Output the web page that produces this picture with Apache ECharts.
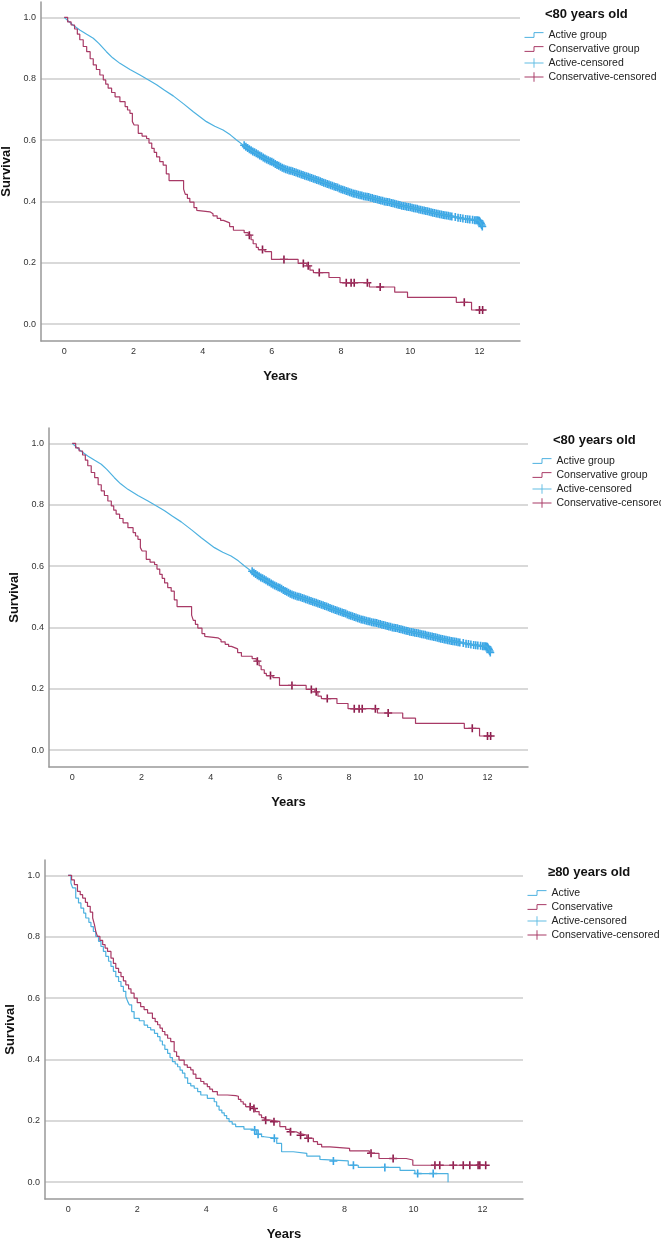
<!DOCTYPE html>
<html>
<head>
<meta charset="utf-8">
<script src="https://cdn.jsdelivr.net/npm/echarts@6/dist/echarts.min.js"></script>
<style>
  html, body { margin: 0; padding: 0; background: #fff; }
  #chart { width: 661px; height: 1239px; }
</style>
</head>
<body>
<div id="chart"></div>
<script>
// ticks
const yearTicks = [0, 2, 4, 6, 8, 10, 12]
const survivalTicks = [0, 0.2, 0.4, 0.6, 0.8, 1.0]

// <80 years old : [years, survival]
const activeYoung = [
  [0, 1], [0.25, 0.975], [0.45, 0.959], [0.65, 0.945], [0.84, 0.932], [1.0, 0.915],
  [1.22, 0.888], [1.4, 0.868], [1.61, 0.85], [1.9, 0.83], [2.19, 0.812], [2.45, 0.795],
  [2.67, 0.78], [2.9, 0.762], [3.15, 0.744], [3.45, 0.718], [3.73, 0.692], [4.11, 0.66],
  [4.35, 0.645], [4.59, 0.633], [4.8, 0.617], [4.98, 0.6], [5.17, 0.584], [5.4, 0.567],
  [5.56, 0.556], [5.8, 0.54], [6.04, 0.527], [6.23, 0.514], [6.43, 0.504], [6.7, 0.494],
  [6.91, 0.486], [7.15, 0.476], [7.39, 0.466], [7.63, 0.456], [7.87, 0.446], [8.1, 0.436],
  [8.35, 0.426], [8.6, 0.419], [8.84, 0.413], [9.08, 0.406], [9.32, 0.399], [9.56, 0.392],
  [9.8, 0.385], [10.04, 0.38], [10.28, 0.374], [10.52, 0.367], [10.76, 0.361], [11.0, 0.355],
  [11.25, 0.35], [11.5, 0.345], [11.73, 0.341], [11.97, 0.339], [12.03, 0.33], [12.08, 0.318]
]
const activeYoungCensored = [
  [5.2, 0.583], [5.25, 0.578], [5.3, 0.574], [5.35, 0.57], [5.4, 0.567], [5.45, 0.563],
  [5.5, 0.56], [5.55, 0.557], [5.6, 0.554], [5.65, 0.55], [5.7, 0.547], [5.75, 0.543],
  [5.8, 0.54], [5.85, 0.537], [5.9, 0.534], [5.95, 0.531], [6.0, 0.529], [6.05, 0.526],
  [6.1, 0.522], [6.15, 0.519], [6.2, 0.516], [6.25, 0.513], [6.3, 0.51], [6.35, 0.507],
  [6.4, 0.505], [6.45, 0.503], [6.5, 0.501], [6.55, 0.5], [6.6, 0.498], [6.65, 0.496],
  [6.7, 0.494], [6.75, 0.492], [6.8, 0.49], [6.85, 0.488], [6.9, 0.486], [6.95, 0.484],
  [7.0, 0.482], [7.05, 0.48], [7.1, 0.478], [7.15, 0.476], [7.2, 0.474], [7.25, 0.472],
  [7.3, 0.47], [7.35, 0.468], [7.4, 0.466], [7.45, 0.463], [7.5, 0.461], [7.55, 0.459],
  [7.6, 0.457], [7.65, 0.455], [7.7, 0.453], [7.75, 0.451], [7.8, 0.449], [7.85, 0.447],
  [7.9, 0.445], [7.95, 0.442], [8.0, 0.44], [8.05, 0.438], [8.1, 0.436], [8.15, 0.434],
  [8.2, 0.432], [8.25, 0.43], [8.3, 0.428], [8.35, 0.426], [8.4, 0.425], [8.45, 0.423],
  [8.5, 0.422], [8.55, 0.42], [8.6, 0.419], [8.65, 0.417], [8.7, 0.416], [8.75, 0.415],
  [8.8, 0.414], [8.85, 0.412], [8.9, 0.411], [8.95, 0.409], [9.0, 0.408], [9.05, 0.406],
  [9.1, 0.405], [9.15, 0.403], [9.2, 0.402], [9.25, 0.4], [9.3, 0.399], [9.35, 0.398],
  [9.4, 0.397], [9.45, 0.395], [9.5, 0.394], [9.55, 0.392], [9.6, 0.391], [9.65, 0.389],
  [9.7, 0.388], [9.75, 0.386], [9.8, 0.385], [9.85, 0.384], [9.9, 0.383], [9.95, 0.382],
  [10.0, 0.381], [10.05, 0.379], [10.1, 0.378], [10.15, 0.377], [10.2, 0.376], [10.25, 0.374],
  [10.3, 0.373], [10.35, 0.371], [10.4, 0.37], [10.45, 0.369], [10.5, 0.368], [10.55, 0.366],
  [10.6, 0.365], [10.65, 0.363], [10.7, 0.362], [10.75, 0.361], [10.8, 0.36], [10.85, 0.358],
  [10.9, 0.357], [10.95, 0.356], [11.0, 0.355], [11.05, 0.354], [11.1, 0.353], [11.15, 0.352],
  [11.2, 0.351], [11.3, 0.349], [11.38, 0.347], [11.45, 0.346], [11.52, 0.344], [11.6, 0.343],
  [11.66, 0.342], [11.72, 0.341], [11.8, 0.34], [11.86, 0.339], [11.9, 0.339], [11.94, 0.339],
  [11.98, 0.338], [12.0, 0.336], [12.02, 0.332], [12.04, 0.328], [12.06, 0.323], [12.08, 0.318]
]
const conservativeYoung = [
  [0, 1], [0.1, 0.985], [0.2, 0.975], [0.3, 0.962], [0.38, 0.945], [0.45, 0.927], [0.55, 0.905],
  [0.65, 0.888], [0.75, 0.865], [0.84, 0.845], [0.93, 0.83], [1.03, 0.812], [1.13, 0.796],
  [1.2, 0.782], [1.27, 0.769], [1.37, 0.755], [1.47, 0.741], [1.61, 0.725], [1.76, 0.709],
  [1.83, 0.698], [1.9, 0.687], [1.97, 0.66], [2.02, 0.649], [2.14, 0.622], [2.25, 0.613],
  [2.38, 0.605], [2.45, 0.59], [2.53, 0.573], [2.6, 0.56], [2.67, 0.545], [2.76, 0.53],
  [2.86, 0.518], [2.95, 0.49], [3.03, 0.468], [3.45, 0.44], [3.5, 0.423], [3.56, 0.41],
  [3.63, 0.398], [3.75, 0.38], [3.83, 0.371], [3.87, 0.366], [4.21, 0.36], [4.3, 0.353],
  [4.42, 0.345], [4.52, 0.338], [4.6, 0.334], [4.69, 0.33], [4.78, 0.318], [4.89, 0.306],
  [5.2, 0.298], [5.32, 0.29], [5.4, 0.275], [5.46, 0.262], [5.55, 0.25], [5.61, 0.243],
  [5.8, 0.236], [5.99, 0.211], [6.76, 0.198], [7.01, 0.19], [7.1, 0.176], [7.2, 0.168],
  [7.65, 0.152], [7.97, 0.135], [8.82, 0.121], [9.55, 0.104], [9.92, 0.087], [11.33, 0.071],
  [11.77, 0.046], [12.11, 0.046]
]
const conservativeYoungCensored = [
  [5.35, 0.29], [5.73, 0.243], [6.35, 0.211], [6.91, 0.198], [7.05, 0.19], [7.37, 0.168],
  [8.15, 0.135], [8.29, 0.135], [8.38, 0.135], [8.76, 0.135], [9.13, 0.121], [11.56, 0.071],
  [12.0, 0.046], [12.09, 0.046]
]

// >=80 years old
const activeOld = [
  [0, 1], [0.08, 0.975], [0.13, 0.959], [0.22, 0.926], [0.3, 0.91], [0.37, 0.893], [0.45, 0.877],
  [0.51, 0.861], [0.6, 0.847], [0.66, 0.833], [0.73, 0.817], [0.8, 0.801], [0.88, 0.785],
  [0.95, 0.768], [1.02, 0.752], [1.09, 0.736], [1.17, 0.72], [1.24, 0.703], [1.31, 0.687],
  [1.38, 0.67], [1.46, 0.654], [1.53, 0.638], [1.6, 0.622], [1.67, 0.605], [1.72, 0.59],
  [1.77, 0.578], [1.84, 0.556], [1.91, 0.534], [2.06, 0.526], [2.2, 0.512], [2.3, 0.504],
  [2.39, 0.496], [2.5, 0.485], [2.59, 0.474], [2.66, 0.46], [2.73, 0.447], [2.8, 0.433],
  [2.88, 0.42], [2.95, 0.406], [3.02, 0.393], [3.1, 0.385], [3.17, 0.376], [3.24, 0.365],
  [3.31, 0.355], [3.38, 0.34], [3.46, 0.322], [3.55, 0.314], [3.65, 0.306], [3.75, 0.295],
  [3.84, 0.284], [4.03, 0.273], [4.23, 0.262], [4.3, 0.248], [4.37, 0.235], [4.45, 0.226],
  [4.52, 0.217], [4.59, 0.207], [4.66, 0.197], [4.75, 0.189], [4.85, 0.181], [5.09, 0.173],
  [5.33, 0.17], [5.45, 0.156], [5.6, 0.148], [5.67, 0.143], [6.04, 0.126], [6.18, 0.099],
  [6.52, 0.094], [6.91, 0.085], [7.29, 0.074], [7.34, 0.069], [8.11, 0.055], [8.4, 0.048],
  [9.61, 0.038], [10.04, 0.028], [11.0, 0]
]
const activeOldCensored = [
  [5.4, 0.17], [5.5, 0.156], [5.97, 0.143], [7.68, 0.069], [8.26, 0.055], [9.17, 0.048],
  [10.12, 0.028], [10.57, 0.028]
]
const conservativeOld = [
  [0, 1], [0.1, 0.985], [0.18, 0.97], [0.27, 0.948], [0.35, 0.937], [0.42, 0.926], [0.5, 0.912],
  [0.56, 0.899], [0.64, 0.88], [0.71, 0.861], [0.76, 0.84], [0.8, 0.817], [0.85, 0.801],
  [0.92, 0.788], [1.0, 0.774], [1.07, 0.763], [1.14, 0.752], [1.24, 0.73], [1.31, 0.713],
  [1.38, 0.697], [1.46, 0.684], [1.53, 0.67], [1.6, 0.656], [1.67, 0.643], [1.75, 0.63],
  [1.82, 0.616], [1.91, 0.6], [2.0, 0.585], [2.1, 0.572], [2.2, 0.562], [2.3, 0.551],
  [2.44, 0.534], [2.52, 0.523], [2.59, 0.513], [2.66, 0.502], [2.73, 0.491], [2.8, 0.48],
  [2.88, 0.469], [2.97, 0.458], [3.07, 0.425], [3.14, 0.41], [3.21, 0.398], [3.36, 0.382],
  [3.45, 0.374], [3.55, 0.366], [3.62, 0.352], [3.7, 0.338], [3.84, 0.328], [3.93, 0.32],
  [4.03, 0.311], [4.1, 0.303], [4.18, 0.295], [4.32, 0.284], [4.61, 0.282], [4.85, 0.28],
  [4.93, 0.27], [5.0, 0.262], [5.07, 0.254], [5.14, 0.246], [5.3, 0.24], [5.42, 0.23],
  [5.53, 0.219], [5.6, 0.21], [5.68, 0.202], [5.85, 0.197], [6.13, 0.181], [6.3, 0.172],
  [6.42, 0.164], [6.6, 0.158], [6.71, 0.153], [6.91, 0.143], [7.1, 0.132], [7.22, 0.123],
  [7.34, 0.115], [7.58, 0.11], [8.15, 0.102], [8.72, 0.094], [9.0, 0.077], [9.79, 0.072],
  [9.98, 0.055], [12.1, 0.055]
]
const conservativeOldCensored = [
  [5.27, 0.246], [5.38, 0.24], [5.72, 0.202], [5.96, 0.197], [6.44, 0.164], [6.73, 0.153],
  [6.95, 0.143], [8.77, 0.094], [9.41, 0.077], [10.62, 0.055], [10.76, 0.055], [11.15, 0.055],
  [11.44, 0.055], [11.63, 0.055], [11.87, 0.055], [11.92, 0.055], [12.09, 0.055]
]

const FONT = 'Liberation Sans'
const BLUE = '#4DB1E0'
const BLUE_MARK = '#3AA6E6'
const RED = '#A83A66'
const RED_MARK = '#8C1C4C'
const PLUS = 'path://M3.2,0H4.8V8H3.2Z M0,3.3H8V4.7H0Z'
const STEP_ICON = 'path://M0,5H10V0H20'
const PLUS_ICON = 'path://M0,4.5H20V5.5H0Z M9.5,0H10.5V10H9.5Z'

const panels = [
  { grid: { left: 41, top: 2, width: 479, height: 339 }, title: '<80 years old', titlePos: [545, 8],
    legendPos: [522, 29], names: ['Active group', 'Conservative group'],
    active: activeYoung, conservative: conservativeYoung, activeCens: activeYoungCensored,
    consCens: conservativeYoungCensored, activeStep: false },
  { grid: { left: 49, top: 428, width: 479, height: 339 }, title: '<80 years old', titlePos: [553, 434],
    legendPos: [530, 455], names: ['Active group', 'Conservative group'],
    active: activeYoung, conservative: conservativeYoung, activeCens: activeYoungCensored,
    consCens: conservativeYoungCensored, activeStep: false },
  { grid: { left: 45, top: 860, width: 478, height: 339 }, title: '≥80 years old', titlePos: [548, 866],
    legendPos: [525, 887], names: ['Active', 'Conservative'],
    active: activeOld, conservative: conservativeOld, activeCens: activeOldCensored,
    consCens: conservativeOldCensored, activeStep: 'end' }
]

const option = {
  animation: false,
  backgroundColor: '#fff',
  grid: [], xAxis: [], yAxis: [], title: [], legend: [], series: []
}

panels.forEach((p, i) => {
  option.grid.push(Object.assign({ outerBoundsMode: 'none', containLabel: false }, p.grid))
  option.xAxis.push({
    type: 'value', gridIndex: i, min: -0.67, max: 13.17,
    name: 'Years', nameLocation: 'middle', nameGap: 29,
    nameTextStyle: { fontFamily: FONT, fontSize: 13, fontWeight: 'bold', color: '#111' },
    axisLine: { show: true, onZero: false, lineStyle: { color: '#999', width: 1.5 } },
    axisTick: { show: false, customValues: yearTicks },
    axisLabel: { customValues: yearTicks, fontFamily: FONT, fontSize: 9, color: '#333', margin: 6 },
    splitLine: { show: false }
  })
  option.yAxis.push({
    type: 'value', gridIndex: i, min: -0.055, max: 1.05,
    name: 'Survival', nameLocation: 'middle', nameGap: 28,
    nameTextStyle: { fontFamily: FONT, fontSize: 13, fontWeight: 'bold', color: '#111' },
    axisLine: { show: true, onZero: false, lineStyle: { color: '#999', width: 1.5 } },
    axisTick: { show: false, customValues: survivalTicks },
    axisLabel: { customValues: survivalTicks, formatter: v => v.toFixed(1), fontFamily: FONT, fontSize: 9, color: '#333', margin: 5 },
    splitLine: { show: true, lineStyle: { color: '#CDCDCD', width: 1.5 } }
  })
  option.title.push({
    text: p.title, left: p.titlePos[0], top: p.titlePos[1], padding: 0,
    textStyle: { fontFamily: FONT, fontSize: 13, fontWeight: 'bold', color: '#111' }
  })
  option.legend.push({
    orient: 'vertical', left: p.legendPos[0], top: p.legendPos[1], padding: 0,
    itemWidth: 19, itemHeight: 10, itemGap: 2, selectedMode: false,
    textStyle: { fontFamily: FONT, fontSize: 10.5, color: '#222', lineHeight: 12 },
    data: [
      { name: p.names[0], icon: STEP_ICON, itemStyle: { color: 'none', borderColor: BLUE, borderWidth: 1 } },
      { name: p.names[1], icon: STEP_ICON, itemStyle: { color: 'none', borderColor: RED, borderWidth: 1 } },
      { name: 'Active-censored', icon: PLUS_ICON, itemStyle: { color: '#62BDE3', borderWidth: 0 } },
      { name: 'Conservative-censored', icon: PLUS_ICON, itemStyle: { color: RED, borderWidth: 0 } }
    ]
  })
  option.series.push(
    {
      name: p.names[0], type: 'line', xAxisIndex: i, yAxisIndex: i, data: p.active,
      step: p.activeStep, showSymbol: false, symbol: 'none',
      lineStyle: { color: BLUE, width: 1.2 }, itemStyle: { color: BLUE }
    },
    {
      name: p.names[1], type: 'line', xAxisIndex: i, yAxisIndex: i, data: p.conservative,
      step: 'end', showSymbol: false, symbol: 'none',
      lineStyle: { color: RED, width: 1.2 }, itemStyle: { color: RED }
    },
    {
      name: 'Active-censored', type: 'scatter', xAxisIndex: i, yAxisIndex: i, data: p.activeCens,
      symbol: PLUS, symbolSize: 8, itemStyle: { color: BLUE_MARK, opacity: 1 }
    },
    {
      name: 'Conservative-censored', type: 'scatter', xAxisIndex: i, yAxisIndex: i, data: p.consCens,
      symbol: PLUS, symbolSize: 8, itemStyle: { color: RED_MARK, opacity: 1 }
    }
  )
})

const chart = echarts.init(document.getElementById('chart'), null, { renderer: 'canvas' })
chart.setOption(option)
</script>
</body>
</html>
